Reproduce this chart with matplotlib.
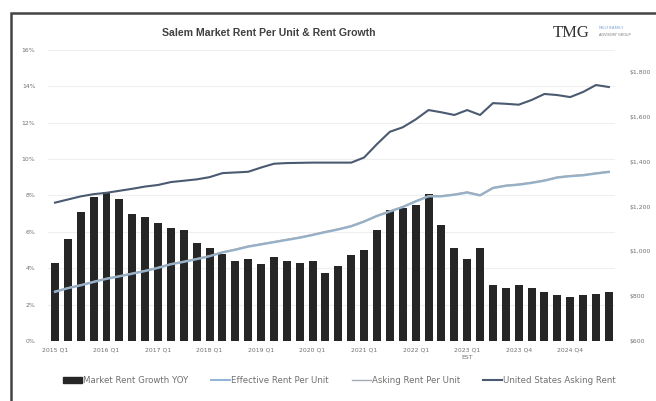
import matplotlib.pyplot as plt
from matplotlib.patches import Rectangle
from matplotlib.lines import Line2D
from matplotlib.patches import Patch

# Market rent growth YOY (%), quarterly, 44 bars
rent_growth = [4.3, 5.6, 7.1, 7.9, 8.2, 7.8, 7.0, 6.8, 6.5, 6.2, 6.1, 5.4,
               5.1, 4.8, 4.4, 4.5, 4.25, 4.6, 4.4, 4.3, 4.4, 3.75, 4.1, 4.7,
               5.0, 6.1, 7.2, 7.3, 7.5, 8.1, 6.4, 5.1, 4.5, 5.1, 3.1, 2.9,
               3.1, 2.9, 2.7, 2.5, 2.4, 2.5, 2.6, 2.7]

asking_rent = [822, 838, 851, 866, 880, 891, 903, 915, 929, 945, 956, 968,
               981, 998, 1010, 1024, 1034, 1044, 1054, 1064, 1076, 1089, 1101, 1115,
               1136, 1161, 1181, 1201, 1226, 1249, 1249, 1256, 1266, 1253, 1286, 1296,
               1301, 1309, 1319, 1333, 1339, 1343, 1351, 1358]

effective_rent = [819, 835, 848, 863, 877, 888, 900, 912, 926, 942, 953, 965,
                  978, 995, 1007, 1021, 1031, 1041, 1051, 1061, 1073, 1086, 1098, 1112,
                  1133, 1158, 1178, 1198, 1223, 1246, 1246, 1253, 1263, 1250, 1283, 1293,
                  1298, 1306, 1316, 1330, 1336, 1340, 1348, 1355]

us_asking_rent = [1218, 1232, 1246, 1256, 1262, 1271, 1280, 1290, 1297, 1310, 1316, 1322,
                  1332, 1350, 1353, 1356, 1375, 1392, 1395, 1396, 1397, 1397, 1397, 1397,
                  1420, 1480, 1535, 1555, 1590, 1632, 1622, 1610, 1632, 1610, 1663, 1660,
                  1656, 1677, 1704, 1699, 1690, 1713, 1744, 1735]

tick_pos = [0, 4, 8, 12, 16, 20, 24, 28, 32, 36, 40]
tick_labels = ['2015 Q1', '2016 Q1', '2017 Q1', '2018 Q1', '2019 Q1', '2020 Q1',
               '2021 Q1', '2022 Q1', '2023 Q1\nEST', '2023 Q4', '2024 Q4']

pct_ticks = [0, 2, 4, 6, 8, 10, 12, 14, 16]
dollar_ticks = [600, 800, 1000, 1200, 1400, 1600, 1800]

txt = '#707070'
c_bar = '#262626'
c_eff = '#8db3d6'
c_ask = '#a3adb8'
c_us = '#4a5a70'

fig = plt.figure(figsize=(6.56, 4.01), dpi=100)
ax = fig.add_axes([0.073, 0.15, 0.865, 0.725])
x = list(range(len(rent_growth)))

ax.bar(x, rent_growth, width=0.62, color=c_bar, zorder=2)
ax.set_ylim(0, 16)
ax.set_xlim(-0.55, 43.5)
ax.set_yticks(pct_ticks)
ax.set_yticklabels([f'{v}%' for v in pct_ticks])
ax.set_xticks(tick_pos)
ax.set_xticklabels(tick_labels, linespacing=1.5)
ax.grid(axis='y', color='#efefef', lw=0.8, zorder=0)
ax.tick_params(axis='y', length=0, labelsize=4.4, labelcolor=txt, pad=9)
ax.tick_params(axis='x', length=0, labelsize=4.4, labelcolor=txt, pad=5)
for s in ax.spines.values():
    s.set_visible(False)

ax2 = ax.twinx()
ax2.plot(x, effective_rent, color=c_eff, lw=1.6)
ax2.plot(x, asking_rent, color=c_ask, lw=1.0)
ax2.plot(x, us_asking_rent, color=c_us, lw=1.5)
ax2.set_ylim(600, 1900)
ax2.set_yticks(dollar_ticks)
ax2.set_yticklabels([f'${v:,}' for v in dollar_ticks])
ax2.tick_params(length=0, labelsize=4.4, labelcolor=txt, pad=10)
for s in ax2.spines.values():
    s.set_visible(False)

fig.text(0.41, 0.918, 'Salem Market Rent Per Unit & Rent Growth',
         family=['Liberation Sans Narrow', 'Liberation Sans', 'DejaVu Sans'],
         weight='bold', fontsize=7.6, color='#404040', ha='center', va='center')

# logo
fig.text(0.843, 0.918, 'TMG', family='Liberation Serif', fontsize=12,
         color='#333333', ha='left', va='center')
fig.text(0.913, 0.93, 'MULTIFAMILY', fontsize=3, color='#7fa8d0', ha='left', va='center')
fig.text(0.913, 0.912, 'ADVISORY GROUP', fontsize=2.5, color='#777777', ha='left', va='center')

# border
fig.patches.append(Rectangle((11 / 656, -0.05), 1.0, 1 - 13 / 401 + 0.05,
                             transform=fig.transFigure, fill=False,
                             edgecolor='#444444', lw=1.8))

handles = [Patch(color=c_bar),
           Line2D([], [], color=c_eff, lw=1.4),
           Line2D([], [], color=c_ask, lw=1.0),
           Line2D([], [], color=c_us, lw=1.5)]
labels = ['Market Rent Growth YOY', 'Effective Rent Per Unit',
          'Asking Rent Per Unit', 'United States Asking Rent']
fig.legend(handles, labels, loc='center', bbox_to_anchor=(0.517, 0.05), ncol=4,
           frameon=False, fontsize=6.2, labelcolor=txt, handlelength=2.2,
           handletextpad=0.1, columnspacing=2.7)

fig.savefig('out.png', dpi=100)
